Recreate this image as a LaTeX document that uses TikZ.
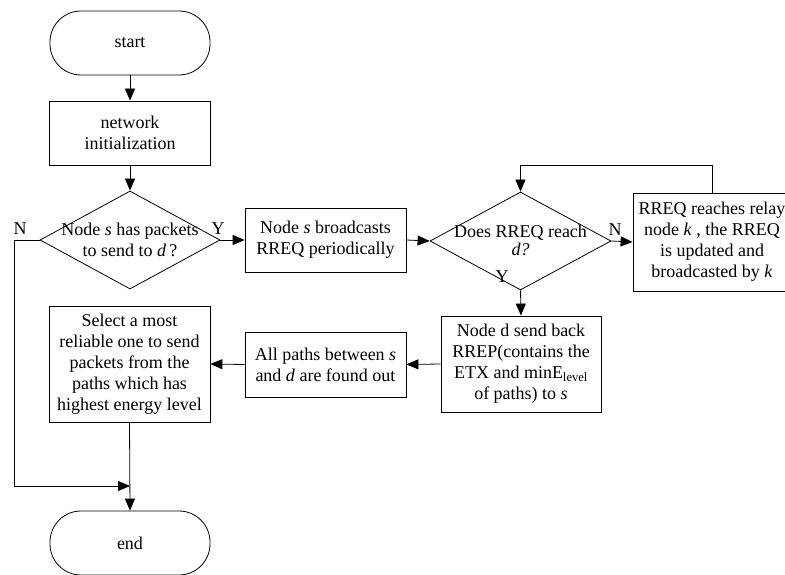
\documentclass[tikz,border=0pt]{standalone}
\usepackage{fontspec}
\setmainfont{Liberation Serif}
\usetikzlibrary{shapes.geometric,arrows.meta}
\begin{document}
\begin{tikzpicture}[x=1pt,y=-1pt,
  every node/.style={font=\fontsize{18}{21}\selectfont},
  box/.style={draw,line width=0.8pt,rectangle,inner sep=0pt,align=center},
  term/.style={draw,line width=0.8pt,rectangle,rounded corners=31pt,inner sep=0pt,minimum width=160pt,minimum height=64pt},
  dia/.style={draw,line width=0.8pt,diamond,inner sep=0pt,minimum width=180pt,minimum height=98pt},
  txt/.style={inner sep=0pt,align=center},
  lbl/.style={inner sep=0pt},
  arr/.style={line width=0.8pt,-{Triangle[length=12pt,width=10pt]}}]
\useasboundingbox (0,0) rectangle (785,575);
\node[term] (start) at (130,43) {start};
\node[box,minimum width=161pt,minimum height=64pt] (init) at (130,133) {network\\initialization};
\node[dia] (d1) at (130,240) {};
\node[txt] (d1t) at (130,240) {Node \textit{s} has packets\\to send to \textit{d}\,?};
\node[box,minimum width=161pt,minimum height=64pt] (b1) at (325.5,240) {Node \textit{s} broadcasts\\RREQ periodically};
\node[dia,minimum width=181pt] (d2) at (520.5,241) {};
\node[txt] (d2t) at (520.5,240) {Does RREQ reach\\[-3pt]\textit{d?}};
\node[box,minimum width=158pt,minimum height=98pt] (relay) at (712,242) {RREQ reaches relay\\node \textit{k} , the RREQ\\is updated and\\broadcasted by \textit{k}};
\node[box,minimum width=160pt,minimum height=96pt] (rrep) at (521,364) {Node d send back\\RREP(contains the\\ETX and minE\textsubscript{level}\\of paths) to \textit{s}};
\node[box,minimum width=161pt,minimum height=65pt] (paths) at (325.5,364.5) {All paths between \textit{s}\\and \textit{d} are found out};
\node[box,minimum width=161pt,minimum height=116pt] (sel) at (129.5,364) {Select a most\\reliable one to send\\packets from the\\paths which has\\highest energy level};
\node[term] (end) at (130,543) {end};
\node[lbl] (n1) at (20,229) {N};
\node[lbl] (y1) at (218,229) {Y};
\node[lbl] (n2) at (615,230) {N};
\node[lbl] (y2) at (502,277) {Y};
\coordinate (loop) at (712,165);
\coordinate (lc) at (14,486);
\draw[arr] (start) -- (init);
\draw[arr] (init) -- (d1.north);
\draw[arr] (d1.east) -- (b1.west);
\draw[arr] (b1.east) -- (d2.west);
\draw[arr] (d2.east) -- (relay.west);
\draw[arr] (relay.north) -- (loop) -| (d2.north);
\draw[arr] (d2.south) -- (rrep.north);
\draw[arr] (rrep.west) -- (paths.east);
\draw[arr] (paths.west) -- (sel.east);
\draw[arr] (sel.south) -- (end.north);
\draw[arr] (d1.west) -| (lc) -- (lc -| end.north);
\end{tikzpicture}
\end{document}
